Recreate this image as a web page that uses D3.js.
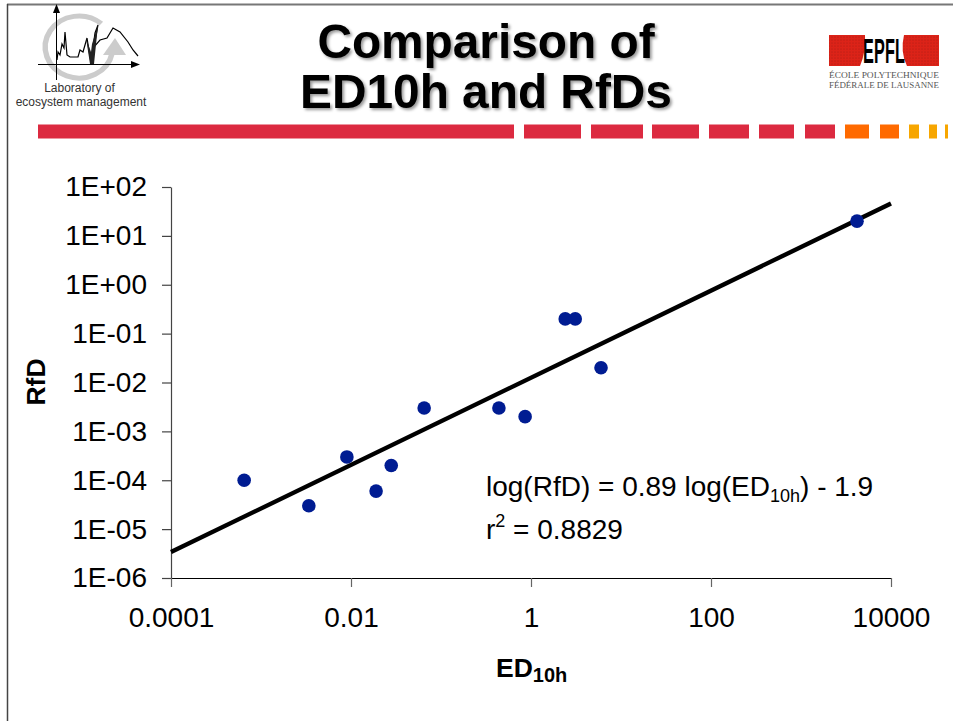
<!DOCTYPE html>
<html>
<head>
<meta charset="utf-8">
<script src="https://cdn.jsdelivr.net/npm/d3@7"></script>
<style>
  html, body { margin: 0; padding: 0; background: #fff; }
  svg { display: block; }
  text { font-family: "Liberation Sans", Arial, sans-serif; fill: #000; }
  .title { font-weight: bold; font-size: 47.8px; text-anchor: middle; filter: drop-shadow(2px 2px 1.5px #999); }
  .serif { font-family: "Liberation Serif", serif; fill: #555; font-size: 7.5px; }
</style>
</head>
<body>
<div id="chart"></div>
<script>
// values
const ed10h = [0.00065, 0.0034, 0.009, 0.019, 0.028, 0.065, 0.44, 0.86, 2.4, 3.1, 6.0, 4190];
const rfd = [1e-4, 3e-5, 3e-4, 6e-5, 2e-4, 3e-3, 3e-3, 2e-3, 0.2, 0.2, 0.02, 20];
const fitX = [0.0001, 10000];
const fitY = [3.4e-6, 46];
const xTicks = [0.0001, 0.01, 1, 100, 10000];
const xTickLabels = ["0.0001", "0.01", "1", "100", "10000"];
const yTicks = [1e2, 1e1, 1e0, 1e-1, 1e-2, 1e-3, 1e-4, 1e-5, 1e-6];
const yTickLabels = ["1E+02", "1E+01", "1E+00", "1E-01", "1E-02", "1E-03", "1E-04", "1E-05", "1E-06"];
const titleLines = ["Comparison of", "ED10h and RfDs"];

// slide banner, [x0, x1, colour]
const bannerParts = [
  [38, 514, "#dc2a40"], [524, 581, "#dc2a40"], [591, 643, "#dc2a40"], [652, 699, "#dc2a40"],
  [709, 749, "#dc2a40"], [759, 794, "#dc2a40"], [805, 835, "#dc2a40"],
  [845, 869, "#ff6a00"], [880, 899, "#ff6a00"],
  [909, 919, "#f7a600"], [929, 937, "#f7a600"], [945, 948, "#f7a600"]
];
// sketch in the lab logo
const logoCurve = [[57,60],[58,52],[60,55],[62,44],[64,48],[65,32],[67,55],[70,57],[78,57],[80,50],[83,52],[87,38],[91,63],[95,33],[98,25],[94,47],[100,40],[107,38],[113,28],[120,32],[128,42],[133,50],[138,56]];

const width = 953, height = 721;
const svg = d3.select("#chart").append("svg")
  .attr("width", width)
  .attr("height", height);

const dots = svg.append("defs").append("pattern")
  .attr("id", "dots").attr("width", 3).attr("height", 3).attr("patternUnits", "userSpaceOnUse");
dots.append("rect").attr("width", 3).attr("height", 3).attr("fill", "#dc2318");
dots.append("circle").attr("cx", 1).attr("cy", 1).attr("r", 0.45).attr("fill", "#7a1410");

// page frame
svg.append("line").attr("x1", 7).attr("x2", width).attr("y1", 4.5).attr("y2", 4.5)
  .attr("stroke", "#777").attr("stroke-width", 2);
svg.append("line").attr("x1", 7.5).attr("x2", 7.5).attr("y1", 4).attr("y2", height)
  .attr("stroke", "#444").attr("stroke-width", 1.5);

// logo on the left
const logo = svg.append("g");
const ring = d3.path();
ring.arc(0, 0, 31, 0.2, -0.85, false);
logo.append("path").attr("d", ring.toString())
  .attr("transform", "translate(79,47) scale(1.09,1)")
  .attr("fill", "none").attr("stroke", "#ccc").attr("stroke-width", 5);
logo.append("path").attr("d", "M103,55L126,55L115,38Z").attr("fill", "#ccc");
logo.append("line").attr("x1", 56.5).attr("x2", 56.5).attr("y1", 8).attr("y2", 80).attr("stroke", "#000");
logo.append("line").attr("x1", 38).attr("x2", 134).attr("y1", 64.5).attr("y2", 64.5).attr("stroke", "#000");
logo.append("path").attr("d", "M56.5,4L53,13L60,13Z").attr("fill", "#000");
logo.append("path").attr("d", "M140,64.5L131,61L131,68Z").attr("fill", "#000");
logo.append("path").attr("d", d3.line()(logoCurve))
  .attr("fill", "none").attr("stroke", "#000").attr("stroke-width", 1.2);
logo.append("path").attr("d", "M86,38L90,64L94,64L98,25L92,44L91,52Z").attr("fill", "#222");
logo.append("text").attr("x", 79.5).attr("y", 92).attr("text-anchor", "middle")
  .style("font-size", "12px").style("fill", "#333").text("Laboratory of");
logo.append("text").attr("x", 81).attr("y", 106).attr("text-anchor", "middle")
  .style("font-size", "12px").style("fill", "#333").text("ecosystem management");

// EPFL logo on the right
const epfl = svg.append("g");
epfl.append("rect").attr("x", 829).attr("y", 35).attr("width", 110).attr("height", 31).attr("fill", "url(#dots)");
epfl.append("path").attr("d", "M865,35L904,35Q900,52 907,66L860,66Q866,52 865,35Z").attr("fill", "#fff");
epfl.append("text").attr("transform", "translate(863,63) scale(0.6,1.28)")
  .attr("textLength", 70).style("font-size", "27px").style("font-weight", "bold").text("EPFL");
epfl.append("text").attr("class", "serif").attr("x", 829).attr("y", 77.5)
  .attr("textLength", 110).attr("lengthAdjust", "spacingAndGlyphs").text("ÉCOLE POLYTECHNIQUE");
epfl.append("text").attr("class", "serif").attr("x", 829).attr("y", 88)
  .attr("textLength", 110).attr("lengthAdjust", "spacingAndGlyphs").text("FÉDÉRALE DE LAUSANNE");

// title
svg.selectAll(".title").data(titleLines).enter().append("text")
  .attr("class", "title")
  .attr("x", 486)
  .attr("y", (d, i) => 58 + i * 50)
  .text(d => d);

// banner
svg.selectAll(".banner").data(bannerParts).enter().append("rect")
  .attr("class", "banner")
  .attr("x", d => d[0])
  .attr("y", 124.5)
  .attr("width", d => d[1] - d[0])
  .attr("height", 14)
  .attr("fill", d => d[2]);

// chart
const x = d3.scaleLog().domain([0.0001, 10000]).range([171, 891]);
const y = d3.scaleLog().domain([1e-6, 1e2]).range([578, 187]);

const yAxis = svg.append("g")
  .attr("transform", "translate(171,0)")
  .call(d3.axisLeft(y).tickValues(yTicks).tickFormat((d, i) => yTickLabels[i]).tickSize(9).tickSizeOuter(0).tickPadding(15));
yAxis.selectAll("line, path").attr("stroke", "#444").attr("stroke-width", 1.2);
yAxis.selectAll("text").style("font-size", "28px").attr("font-family", null);

const xAxis = svg.append("g")
  .attr("transform", "translate(0,578)")
  .call(d3.axisBottom(x).tickValues(xTicks).tickFormat((d, i) => xTickLabels[i]).tickSize(9).tickSizeOuter(0).tickPadding(20));
xAxis.select("path").attr("stroke", "#000").attr("stroke-width", 1.2);
xAxis.selectAll("line").attr("stroke", "#666").attr("stroke-width", 1.2);
xAxis.selectAll("text").style("font-size", "28px").attr("font-family", null);

// fit line
svg.append("path")
  .attr("d", d3.line().x((d, i) => x(fitX[i])).y(d => y(d))(fitY))
  .attr("fill", "none").attr("stroke", "#000").attr("stroke-width", 4.4);

// points
svg.selectAll(".pt").data(ed10h).enter().append("circle")
  .attr("class", "pt")
  .attr("cx", d => x(d))
  .attr("cy", (d, i) => y(rfd[i]))
  .attr("r", 6.8)
  .attr("fill", "#001c92");

// annotation
const eq = svg.append("text").attr("x", 486).attr("y", 496).style("font-size", "28px");
eq.append("tspan").text("log(RfD) = 0.89 log(ED");
eq.append("tspan").attr("dy", 6).style("font-size", "18px").text("10h");
eq.append("tspan").attr("dy", -6).text(") - 1.9");

const r2 = svg.append("text").attr("x", 486).attr("y", 539).style("font-size", "28px");
r2.append("tspan").text("r");
r2.append("tspan").attr("dy", -12).style("font-size", "18px").text("2");
r2.append("tspan").attr("dy", 12).text(" = 0.8829");

// axis titles
const xTitle = svg.append("text").attr("x", 496).attr("y", 677)
  .style("font-size", "26.5px").style("font-weight", "bold");
xTitle.append("tspan").text("ED");
xTitle.append("tspan").attr("dy", 5).style("font-size", "20px").text("10h");

svg.append("text")
  .attr("transform", "translate(45,382) rotate(-90)")
  .attr("text-anchor", "middle")
  .style("font-size", "26.5px").style("font-weight", "bold")
  .text("RfD");
</script>
</body>
</html>
